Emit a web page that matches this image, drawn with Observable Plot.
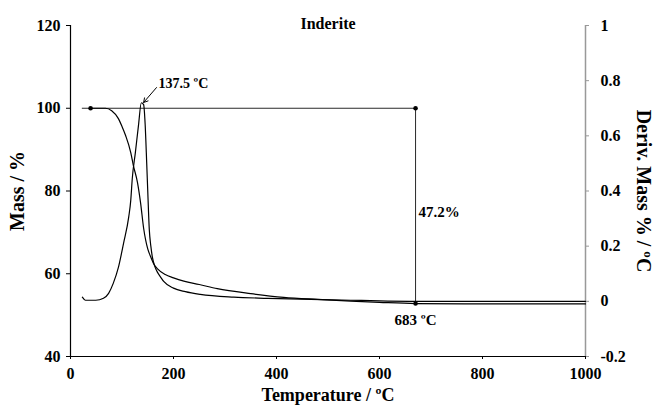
<!DOCTYPE html>
<html>
<head>
<meta charset="utf-8">
<script src="https://cdn.jsdelivr.net/npm/d3@7"></script>
<script src="https://cdn.jsdelivr.net/npm/@observablehq/plot@0.6"></script>
<style>
  html, body { margin: 0; padding: 0; background: #fff; }
  #chart svg { display: block; }
</style>
</head>
<body>
<div id="chart"></div>
<script>
// ---- Data ----
const tgTemp = [39, 68, 80, 93, 100, 107, 117, 122, 130, 136, 142, 150, 155, 162, 169, 184, 200, 220, 250, 285, 350, 414, 480, 544, 600, 670, 800, 1000];
const tgMass = [100, 100, 99.4, 97.5, 95.6, 93.4, 89.3, 86.2, 82.1, 77.2, 71.0, 66.0, 64.3, 62.3, 61.2, 59.8, 59.0, 58.2, 57.4, 56.4, 55.2, 54.3, 53.8, 53.4, 53.1, 52.8, 52.7, 52.7];

const dtgTemp = [23, 29, 49, 64, 74, 83, 93, 103, 113, 117, 120, 126, 132, 137.5, 142, 145, 148, 150, 153, 156, 159, 164, 169, 175, 181, 200, 223, 252, 317, 383, 447, 544, 600, 700, 1000];
const dtgDeriv = [0.015, 0.004, 0.004, 0.011, 0.029, 0.065, 0.123, 0.21, 0.305, 0.366, 0.446, 0.54, 0.638, 0.72, 0.713, 0.64, 0.50, 0.40, 0.26, 0.20, 0.16, 0.125, 0.105, 0.088, 0.072, 0.048, 0.035, 0.025, 0.015, 0.011, 0.008, 0.004, 0.002, 0, 0];

const tempTicks = [0, 200, 400, 600, 800, 1000];
const massTicks = [40, 60, 80, 100, 120];
const derivTicks = [-0.2, 0, 0.2, 0.4, 0.6, 0.8, 1];

const massDomain = [40, 120];
const derivDomain = [-0.2, 1];

// annotations
const stepTemps = [23, 670];          // horizontal guide at 100 %
const stepMass = 100;
const endTemp = 670;                  // drawn position of the 683 °C marker
const endMass = 52.8;
const markerTemps = [39, 670, 670];
const markerMass = [100, 100, 52.8];
const arrowFrom = [167, 105.0];
const arrowTo = [142, 101.4];
const peakText = "137.5 ºC";
const peakTextPos = [171, 106];
const lossText = "47.2%";
const lossTextMass = 75;
const endText = "683 ºC";

const titleText = "Inderite";
const xLabel = "Temperature / ºC";
const yLabel = "Mass / %";
const y2Label = "Deriv. Mass % / ºC";

// map derivative axis onto the mass axis
const toMass = v => massDomain[0] + (v - derivDomain[0]) * (massDomain[1] - massDomain[0]) / (derivDomain[1] - derivDomain[0]);

const tg = tgTemp.map((t, i) => ({t, m: tgMass[i]}));
const dtg = dtgTemp.map((t, i) => ({t, m: toMass(dtgDeriv[i])}));

const font = "'Liberation Serif', 'Times New Roman', serif";

const chart = Plot.plot({
  width: 656,
  height: 411,
  marginLeft: 70,
  marginRight: 71,
  marginTop: 25,
  marginBottom: 55,
  style: {fontFamily: font, fontWeight: "bold", fontSize: "16px", color: "#000", background: "#fff"},
  x: {domain: [0, 1000]},
  y: {domain: massDomain},
  marks: [
    // axes
    Plot.axisX({ticks: tempTicks, tickSize: 3, tickPadding: 8, label: null, tickFormat: d => String(d)}),
    Plot.axisY({anchor: "left", ticks: massTicks, tickSize: 4, tickPadding: 6, label: null, tickFormat: d => String(d)}),
    Plot.axisY({anchor: "right", ticks: derivTicks.map(toMass), tickSize: 3, tickPadding: 12, label: null, stroke: "#999",
      tickFormat: (d, i) => String(derivTicks[i])}),
    Plot.ruleX([0], {stroke: "#000", strokeWidth: 1.2}),
    Plot.ruleY([massDomain[0]], {stroke: "#000", strokeWidth: 1.2}),
    Plot.ruleX([1000], {stroke: "#999", strokeWidth: 1.5}),
    // annotation guides
    Plot.ruleY([stepMass], {x1: stepTemps[0], x2: stepTemps[1], stroke: "#111", strokeWidth: 0.9}),
    Plot.ruleX([endTemp], {y1: endMass, y2: stepMass, stroke: "#111", strokeWidth: 0.9}),
    // curves
    Plot.line(tg, {x: "t", y: "m", curve: "monotone-x", stroke: "#000", strokeWidth: 1.2}),
    Plot.line(dtg, {x: "t", y: "m", curve: "monotone-x", stroke: "#000", strokeWidth: 1.2}),
    Plot.dot(markerTemps.map((t, i) => ({t, m: markerMass[i]})), {x: "t", y: "m", r: 2.3, fill: "#000", stroke: "none"}),
    Plot.arrow([0], {x1: () => arrowFrom[0], y1: () => arrowFrom[1], x2: () => arrowTo[0], y2: () => arrowTo[1],
      stroke: "#000", strokeWidth: 1, headLength: 7}),
    // annotation texts
    Plot.text([peakText], {x: () => peakTextPos[0], y: () => peakTextPos[1], text: d => d, textAnchor: "start",
      fontSize: 14, fontWeight: "bold", fontFamily: font, fill: "#000"}),
    Plot.text([lossText], {x: () => endTemp, y: () => lossTextMass, text: d => d, textAnchor: "start", dx: 3,
      fontSize: 15, fontWeight: "bold", fontFamily: font, fill: "#000"}),
    Plot.text([endText], {x: () => endTemp, y: () => endMass, text: d => d, dy: 17,
      fontSize: 15, fontWeight: "bold", fontFamily: font, fill: "#000"}),
    // title and axis labels
    Plot.text([titleText], {frameAnchor: "top", dy: -8, text: d => d, fontSize: 16, fontWeight: "bold", fontFamily: font, fill: "#000"}),
    Plot.text([xLabel], {frameAnchor: "bottom", dy: 44, text: d => d, fontSize: 18, fontWeight: "bold", fontFamily: font, fill: "#000"}),
    Plot.text([yLabel], {frameAnchor: "left", dx: -53, rotate: -90, textAnchor: "middle", text: d => d, fontSize: 20, fontWeight: "bold", fontFamily: font, fill: "#000"}),
    Plot.text([y2Label], {frameAnchor: "right", dx: 58, rotate: 90, textAnchor: "middle", text: d => d, fontSize: 20, fontWeight: "bold", fontFamily: font, fill: "#000"})
  ]
});

document.getElementById("chart").appendChild(chart);
</script>
</body>
</html>
